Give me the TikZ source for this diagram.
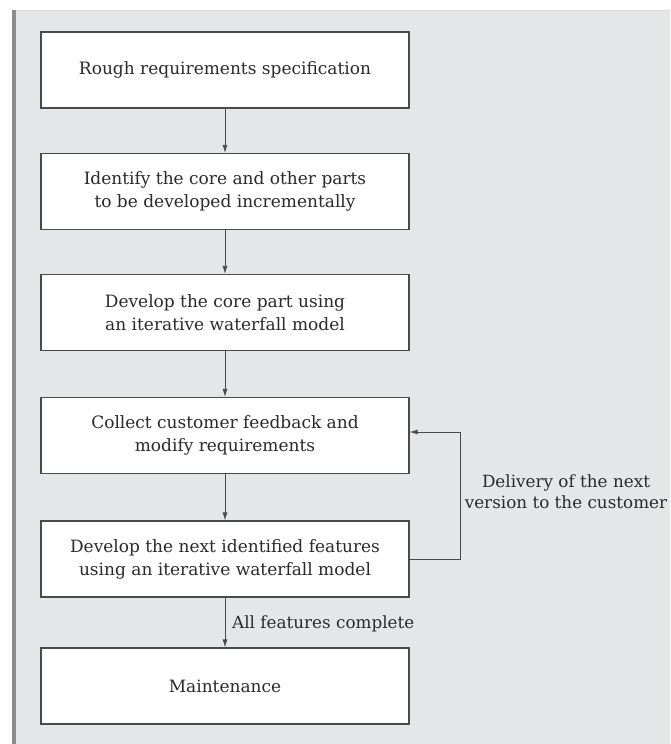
\documentclass[tikz,border=0pt]{standalone}
\usepackage{fontspec}
\setmainfont{DejaVu Serif}
\usetikzlibrary{arrows.meta}
\definecolor{panel}{HTML}{E5E6E8}
\definecolor{bar}{HTML}{8C8C8C}
\definecolor{edge}{HTML}{4A4A4A}
\definecolor{ink}{HTML}{2A2A2A}
\tikzset{
  stepbox/.style={draw=edge, line width=1.2pt, fill=white, minimum width=368pt, minimum height=76pt, inner sep=0pt, align=center, text=ink, font=\fontsize{17}{23}\selectfont},
  flow/.style={draw=edge, line width=0.8pt, -{Latex[length=8pt,width=5pt]}},
  lbl/.style={text=ink, font=\fontsize{16.8}{21}\selectfont, align=center, inner sep=0pt}
}
\begin{document}
\begin{tikzpicture}[x=1pt,y=-1pt]
\useasboundingbox (0,0) rectangle (670,744);
\fill[white] (0,0) rectangle (670,744);
\fill[panel] (12,10) rectangle (670,744);
\draw[black!15, line width=1pt] (12,10.5) -- (670,10.5);
\fill[bar] (12,10) rectangle (16,744);
\node[stepbox] (b1) at (225,70) {Rough requirements specification};
\node[stepbox] (b2) at (225,191.5) {Identify the core and other parts\\to be developed incrementally};
\node[stepbox] (b3) at (225,312.5) {Develop the core part using\\an iterative waterfall model};
\node[stepbox] (b4) at (225,435.5) {Collect customer feedback and\\modify requirements};
\node[stepbox] (b5) at (225,559) {Develop the next identified features\\using an iterative waterfall model};
\node[stepbox] (b6) at (225,686) {Maintenance};
\draw[flow] (b1) -- (b2);
\draw[flow] (b2) -- (b3);
\draw[flow] (b3) -- (b4);
\draw[flow] (b4) -- (b5);
\draw[flow] (b5) -- (b6);
\coordinate (loop) at (460,559);
\draw[flow] (b5.east) -- (loop) |- ([yshift=3.5pt]b4.east);
\node[lbl] (dl) at (566,492) {Delivery of the next\\version to the customer};
\node[lbl, anchor=west] (af) at (232,624) {All features complete};
\end{tikzpicture}
\end{document}
